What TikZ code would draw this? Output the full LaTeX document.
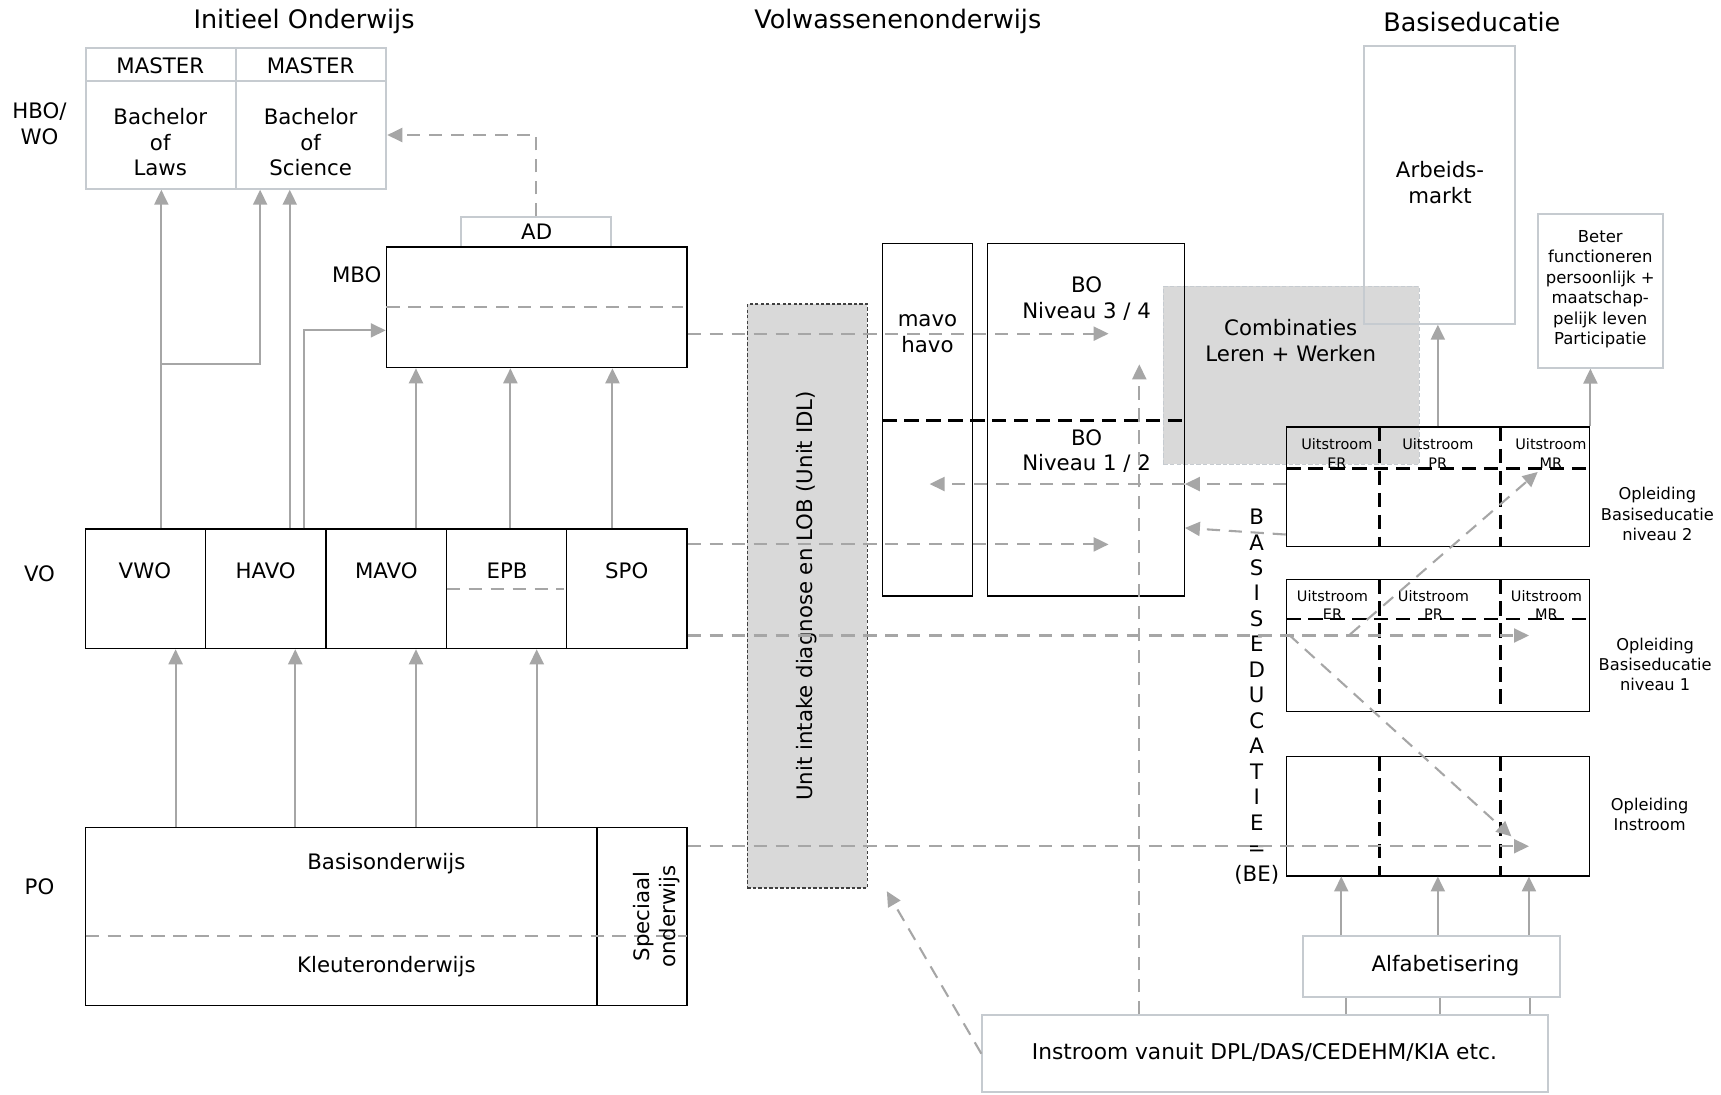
\documentclass[tikz,border=0pt]{standalone}
\usepackage{fontspec}
\setmainfont{DejaVu Sans}
\usetikzlibrary{arrows.meta,fit,calc}
\definecolor{agray}{HTML}{A6A6A6}
\definecolor{lgray}{HTML}{C6CBD0}
\definecolor{fgray}{HTML}{D9D9D9}
\definecolor{ddgray}{HTML}{404040}
\begin{document}
\begin{tikzpicture}[x=0.5pt,y=-0.5pt,
  bx/.style={draw=black, line width=0.6pt, inner sep=0pt},
  lbx/.style={draw=lgray, line width=0.9pt, inner sep=0pt},
  txt/.style={font=\fontsize{9.7}{11.8}\selectfont, align=center, inner sep=0pt},
  ttl/.style={font=\fontsize{11.6}{14}\selectfont, inner sep=0pt},
  sml/.style={font=\fontsize{6.6}{8.4}\selectfont, align=center, inner sep=0pt},
  lab/.style={font=\fontsize{7.4}{9.25}\selectfont, align=center, inner sep=0pt},
  tip/.style={-{Triangle[length=6.8pt,width=6.4pt]}},
  arr/.style={draw=agray, line width=0.9pt, tip},
  darr/.style={draw=agray, line width=0.95pt, dash pattern=on 6pt off 4pt, tip},
  gline/.style={draw=agray, line width=0.9pt},
  gdash/.style={draw=agray, line width=0.95pt, dash pattern=on 6pt off 4pt},
  bdash/.style={draw=black, line width=1.1pt, dash pattern=on 6.5pt off 3.5pt},
]
\useasboundingbox (0,0) rectangle (1568,997);
\fill[white] (0,0) rectangle (1568,997);

% ---- titles ----
\node[ttl] (t1) at (277,20) {Initieel Onderwijs};
\node[ttl] (t2) at (818,20) {Volwassenenonderwijs};
\node[ttl] (t3) at (1341,20) {Basiseducatie};

% ---- left labels ----
\node[txt] (lhbo) at (36,113) {HBO/\\WO};
\node[txt] (lvo) at (36,523) {VO};
\node[txt] (lpo) at (36,808) {PO};
\node[txt] (lmbo) at (325,250) {MBO};

% ---- grey filled areas ----
\node[fit={(1060,261) (1293,423)}, fill=fgray, draw=lgray, line width=0.5pt, dash pattern=on 2pt off 1pt, inner sep=0pt] (comb) {};
\node[fit={(681,277) (790,809)}, fill=fgray, draw=ddgray, line width=0.5pt, dash pattern=on 1.5pt off 1pt, inner sep=0pt] (unit) {};

% ---- HBO/WO ----
\node[lbx, fit={(78,44) (215,74)}] (m1) {};
\node[lbx, fit={(215,44) (352,74)}] (m2) {};
\node[lbx, fit={(78,74) (215,172)}] (b1) {};
\node[lbx, fit={(215,74) (352,172)}] (b2) {};
\node[txt] (tm1) at (146,60) {MASTER};
\node[txt] (tm2) at (283,60) {MASTER};
\node[txt] (tb1) at (146,129.5) {Bachelor\\of\\Laws};
\node[txt] (tb2) at (283,129.5) {Bachelor\\of\\Science};

% ---- AD / MBO ----
\node[lbx, fit={(420,198) (557,225)}] (ad) {};
\node[txt] (tad) at (489,211) {AD};
\node[bx, fit={(352,225) (626,335)}] (mbo) {};
\draw[gdash] (352,280) -- (622,280);

% ---- VO ----
\node[bx, fit={(78,482) (187,591)}] (vwo) {};
\node[bx, fit={(187,482) (297,591)}] (havo) {};
\node[bx, fit={(297,482) (407,591)}] (mavo) {};
\node[bx, fit={(407,482) (516,591)}] (epb) {};
\node[bx, fit={(516,482) (626,591)}] (spo) {};
\node[txt] (tvwo) at (132,520) {VWO};
\node[txt] (thavo) at (242,520) {HAVO};
\node[txt] (tmavo) at (352,520) {MAVO};
\node[txt] (tepb) at (462,520) {EPB};
\node[txt] (tspo) at (571,520) {SPO};
\draw[gdash] (407,537) -- (514,537);

% ---- PO ----
\node[bx, fit={(78,754) (544,916)}] (basis) {};
\node[bx, fit={(544,754) (626,916)}] (spec) {};
\draw[gdash] (78,853) -- (626,853);
\node[txt] (tbasis) at (352,787) {Basisonderwijs};
\node[txt] (tkleu) at (352,881) {Kleuteronderwijs};
\node[txt, rotate=90] (tspec) at (598,835) {Speciaal\\onderwijs};

% ---- arrows initial education ----
\draw[arr] (147,0 |- vwo.north) -- (147,0 |- b1.south);
\draw[arr] (147,332) -| (237,0 |- b2.south);
\draw[arr] (264,0 |- havo.north) -- (264,0 |- b2.south);
\draw[arr] (277,0 |- havo.north) |- (mbo.west |- 0,301);
\draw[arr] (379,0 |- mavo.north) -- (379,0 |- mbo.south);
\draw[arr] (465,0 |- epb.north) -- (465,0 |- mbo.south);
\draw[arr] (558,0 |- spo.north) -- (558,0 |- mbo.south);
\draw[darr] (ad.north) |- (b2.east |- 0,123);
\draw[arr] (160,0 |- basis.north) -- (160,0 |- vwo.south);
\draw[arr] (269,0 |- basis.north) -- (269,0 |- havo.south);
\draw[arr] (379,0 |- basis.north) -- (379,0 |- mavo.south);
\draw[arr] (489,0 |- basis.north) -- (489,0 |- epb.south);

% ---- Volwassenenonderwijs ----
\node[txt, rotate=90] (tunit) at (735,543) {Unit intake diagnose en LOB (Unit IDL)};
\node[bx, fit={(804,222) (886,543)}] (mh) {};
\node[bx, fit={(900,222) (1079,543)}] (bo) {};
\draw[bdash] (804,383) -- (1079,383);
\node[txt] (tmh) at (845,304) {mavo\\havo};
\node[txt] (tbo34) at (990,272) {BO\\Niveau 3 / 4};
\node[txt] (tbo12) at (990,411) {BO\\Niveau 1 / 2};
\node[txt] (tcomb) at (1176,310) {Combinaties\\Leren + Werken};

% ---- Basiseducatie ----
\node[lbx, fit={(1243,42) (1380,295)}] (arb) {};
\node[txt] (tarb) at (1312,166.5) {Arbeids-\\markt};
\node[lbx, fit={(1401,195) (1515,335)}] (bet) {};
\node[font=\fontsize{7.5}{9.3}\selectfont, align=center, inner sep=0pt] (tbet) at (1458,263.5) {Beter\\functioneren\\persoonlijk +\\maatschap-\\pelijk leven\\Participatie};

\node[bx, fit={(1172,389) (1448,498)}] (n2) {};
\draw[bdash] (1257,389) -- (1257,498);
\draw[bdash] (1367,389) -- (1367,498);
\draw[bdash] (1172,427) -- (1448,427);
\node[sml] (u2a) at (1218,413) {Uitstroom\\ER};
\node[sml] (u2b) at (1310,413) {Uitstroom\\PR};
\node[sml] (u2c) at (1413,413) {Uitstroom\\MR};

\node[bx, fit={(1172,528) (1448,648)}] (n1) {};
\draw[bdash] (1257,528) -- (1257,648);
\draw[bdash] (1367,528) -- (1367,648);
\draw[bdash] (1172,564) -- (1448,564);
\node[sml] (u1a) at (1214,551) {Uitstroom\\ER};
\node[sml] (u1b) at (1306,551) {Uitstroom\\PR};
\node[sml] (u1c) at (1409,551) {Uitstroom\\MR};

\node[bx, fit={(1172,689) (1448,798)}] (ins) {};
\draw[bdash] (1257,689) -- (1257,798);
\draw[bdash] (1367,689) -- (1367,798);

\node[lab] (ln2) at (1510,468.5) {Opleiding\\Basiseducatie\\niveau 2};
\node[lab] (ln1) at (1508,605.5) {Opleiding\\Basiseducatie\\niveau 1};
\node[lab] (lins) at (1503,742) {Opleiding\\Instroom};

\node[font=\fontsize{9.7}{11.6}\selectfont, align=center, inner sep=0pt] (tbe) at (1145,634.5) {B\\A\\S\\I\\S\\E\\D\\U\\C\\A\\T\\I\\E\\=\\(BE)};

\node[lbx, fit={(1187,853) (1421,908)}] (alf) {};
\node[txt] (talf) at (1317,880) {Alfabetisering};
\node[lbx, fit={(895,925) (1410,995)}] (inv) {};
\node[font=\fontsize{9.9}{12}\selectfont, inner sep=0pt] (tinv) at (1152,959) {Instroom vanuit DPL/DAS/CEDEHM/KIA etc.};

% ---- free ends ----
\coordinate (e1) at (1010,304);
\coordinate (e2) at (1010,496);
\coordinate (e3) at (1393,579);
\coordinate (e4) at (1393,771);
\coordinate (e5) at (847,441);
\coordinate (e6) at (1038,332);
\coordinate (e7) at (808,812);
\coordinate (s8) at (1230,578);
\coordinate (e8) at (1401,430);
\coordinate (s9) at (1174,578);
\coordinate (e9) at (1377,762);

% ---- connectors right part ----
\draw[arr] (1310,0 |- n2.north) -- (1310,0 |- arb.south);
\draw[arr] (1449,0 |- n2.north) -- (1449,0 |- bet.south);
\draw[arr] (1222,0 |- alf.north) -- (1222,0 |- ins.south);
\draw[arr] (1310,0 |- alf.north) -- (1310,0 |- ins.south);
\draw[arr] (1393,0 |- alf.north) -- (1393,0 |- ins.south);
\draw[gline] (1226,0 |- inv.north) -- (1226,0 |- alf.south);
\draw[gline] (1312,0 |- inv.north) -- (1312,0 |- alf.south);
\draw[gline] (1394,0 |- inv.north) -- (1394,0 |- alf.south);

\draw[darr] (mbo.east |- e1) -- (e1);
\draw[darr] (spo.east |- e2) -- (e2);
\draw[darr] (spo.east |- e3) -- (e3);
\draw[darr] (spec.east |- e4) -- (e4);
\draw[darr] (n2.west |- 0,441) -- (bo.east |- 0,441);
\draw[darr] (bo.east |- 0,441) -- (e5);
\draw[darr] (n2.west |- 0,487) -- (bo.east |- 0,481);
\draw[darr] (inv.north -| e6) -- (e6);
\draw[darr] (inv.west) -- (e7);
\draw[darr] (s8) -- (e8);
\draw[darr] (s9) -- (e9);
\end{tikzpicture}
\end{document}
